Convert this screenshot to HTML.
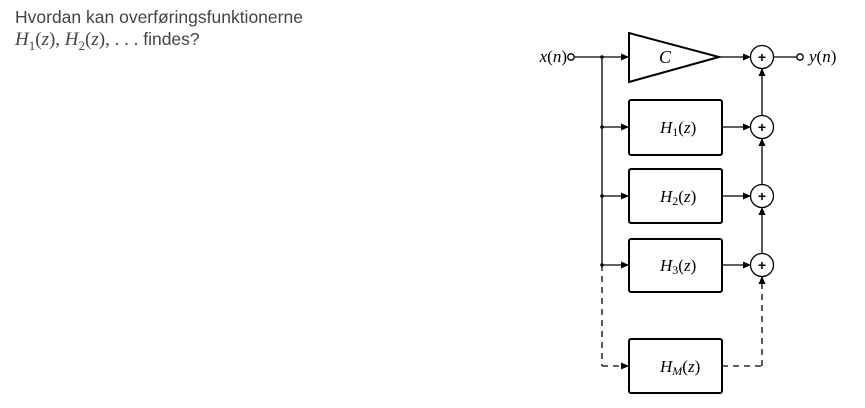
<!DOCTYPE html>
<html><head><meta charset="utf-8"><style>
html,body{margin:0;padding:0;background:#fff;width:865px;height:408px;overflow:hidden}
.t{position:absolute;left:15px;top:6px;font-family:"Liberation Sans",sans-serif;font-size:17.5px;color:#444;line-height:22px}
.m{font-family:"Liberation Serif",serif;font-style:italic;font-size:19px}
.r{font-family:"Liberation Serif",serif;font-style:normal;font-size:19px}
</style></head><body>
<div class="t">Hvordan kan overføringsfunktionerne<br><span class="m">H</span><span class="r"><sub style="font-size:13px">1</sub>(</span><span class="m">z</span><span class="r">), </span><span class="m">H</span><span class="r"><sub style="font-size:13px">2</sub>(</span><span class="m">z</span><span class="r">), . . .</span> findes?</div>
<svg width="865" height="408" style="position:absolute;left:0;top:0" xmlns="http://www.w3.org/2000/svg">
<defs><marker id="a" markerWidth="8" markerHeight="8" refX="7" refY="4" orient="auto" markerUnits="userSpaceOnUse"><path d="M0,0.5 L8,4 L0,7.5z" fill="#000"/></marker></defs>
<g stroke="#000" fill="none" stroke-width="1.3">
<circle cx="571" cy="57" r="3.2"/>
<line x1="574" y1="57" x2="628" y2="57" marker-end="url(#a)"/>
<line x1="602" y1="57" x2="602" y2="265"/>
<line x1="602" y1="265" x2="602" y2="366" stroke-dasharray="6,5"/>
<line x1="602" y1="366" x2="628" y2="366" stroke-dasharray="6,5" marker-end="url(#a)"/>
<line x1="602" y1="127" x2="628" y2="127" marker-end="url(#a)"/>
<line x1="602" y1="196" x2="628" y2="196" marker-end="url(#a)"/>
<line x1="602" y1="265" x2="628" y2="265" marker-end="url(#a)"/>
<path d="M629,33 L719,57 L629,82 Z" stroke-width="2"/>
<rect x="629" y="100" width="93" height="55" rx="2" stroke-width="2"/>
<rect x="629" y="169" width="93" height="54" rx="2" stroke-width="2"/>
<rect x="629" y="239" width="93" height="53" rx="2" stroke-width="2"/>
<rect x="629" y="339" width="93" height="54" rx="2" stroke-width="2"/>
<line x1="720" y1="57" x2="750" y2="57" marker-end="url(#a)"/>
<line x1="722" y1="127" x2="750" y2="127" marker-end="url(#a)"/>
<line x1="722" y1="196" x2="750" y2="196" marker-end="url(#a)"/>
<line x1="722" y1="265" x2="750" y2="265" marker-end="url(#a)"/>
<circle cx="762" cy="57" r="11.5"/>
<circle cx="762" cy="127" r="11.5"/>
<circle cx="762" cy="196" r="11.5"/>
<circle cx="762" cy="265" r="11.5"/>
<line x1="762" y1="115" x2="762" y2="69" marker-end="url(#a)"/>
<line x1="762" y1="184" x2="762" y2="139" marker-end="url(#a)"/>
<line x1="762" y1="253" x2="762" y2="208" marker-end="url(#a)"/>
<line x1="722" y1="366" x2="762" y2="366" stroke-dasharray="6,5"/>
<line x1="762" y1="366" x2="762" y2="277" stroke-dasharray="6,5" marker-end="url(#a)"/>
<line x1="773.5" y1="57" x2="797" y2="57"/>
<circle cx="800" cy="57" r="3.2"/>
</g>
<g fill="#000">
<circle cx="602" cy="57" r="1.8"/><circle cx="602" cy="127" r="1.8"/><circle cx="602" cy="196" r="1.8"/><circle cx="602" cy="265" r="1.8"/>
</g>
<g font-family="Liberation Sans,sans-serif" font-size="14" font-weight="bold" text-anchor="middle" fill="#000">
<text x="762" y="62">+</text><text x="762" y="132">+</text><text x="762" y="201">+</text><text x="762" y="270">+</text>
</g>
<g font-family="Liberation Serif,serif" font-size="17" fill="#000">
<text x="567" y="62" text-anchor="end"><tspan font-style="italic">x</tspan>(<tspan font-style="italic">n</tspan>)</text>
<text x="809" y="62"><tspan font-style="italic">y</tspan>(<tspan font-style="italic">n</tspan>)</text>
<text x="659" y="63" font-style="italic" font-size="18">C</text>
<text x="660" y="133"><tspan font-style="italic">H</tspan><tspan font-size="12" dy="3">1</tspan><tspan dy="-3">(</tspan><tspan font-style="italic">z</tspan>)</text>
<text x="660" y="202"><tspan font-style="italic">H</tspan><tspan font-size="12" dy="3">2</tspan><tspan dy="-3">(</tspan><tspan font-style="italic">z</tspan>)</text>
<text x="660" y="271"><tspan font-style="italic">H</tspan><tspan font-size="12" dy="3">3</tspan><tspan dy="-3">(</tspan><tspan font-style="italic">z</tspan>)</text>
<text x="660" y="372"><tspan font-style="italic">H</tspan><tspan font-size="12" font-style="italic" dy="3">M</tspan><tspan dy="-3">(</tspan><tspan font-style="italic">z</tspan>)</text>
</g>
</svg>
</body></html>
